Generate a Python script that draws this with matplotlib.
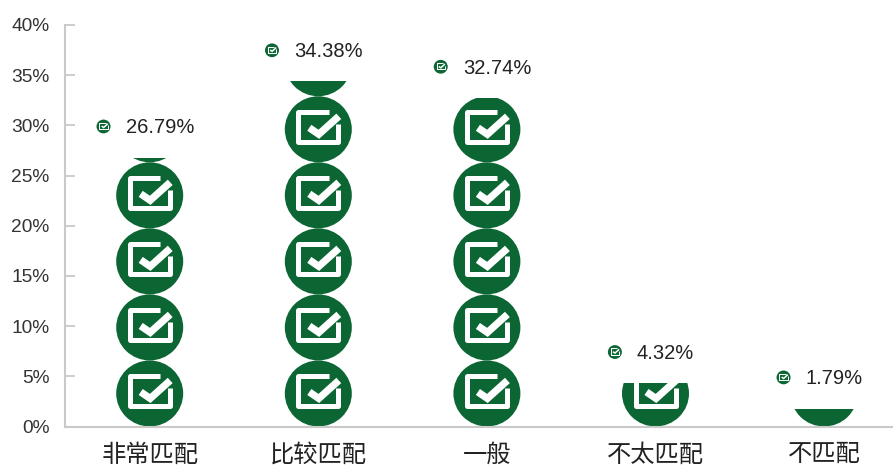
import matplotlib
matplotlib.use('Agg')
import matplotlib.pyplot as plt
from matplotlib.patches import Ellipse, Rectangle

plt.rcParams['font.family'] = ['Liberation Sans', 'Noto Sans CJK SC']

categories = ['非常匹配', '比较匹配', '一般', '不太匹配', '不匹配']
values = [26.79, 34.38, 32.74, 4.32, 1.79]
ytick_values = [0, 5, 10, 15, 20, 25, 30, 35, 40]

GREEN = '#0b6633'
AXIS = '#c9c9c9'
UNIT = 6.58  # percent covered by one icon

fig = plt.figure(figsize=(8.93, 4.68), dpi=100)
ax = fig.add_axes([65 / 893, (468 - 426.5) / 468, 828 / 893, 401.5 / 468])
PX_X = 1 / 168.6
PX_Y = 40 / 401.5
ax.set_xlim(-84.7 * PX_X, (828 - 84.7) * PX_X)
ax.set_ylim(0, 40)


def draw_icon(cx, cy, scale=1.0, clip=None):
    # icon shapes are given in pixels around the centre, y going down
    def pts(xy):
        return [cx + x * scale * PX_X for x, y in xy], [cy - y * scale * PX_Y for x, y in xy]

    arts = []
    circle = Ellipse((cx, cy), 67 * scale * PX_X, 66 * scale * PX_Y, color=GREEN, lw=0, zorder=2)
    ax.add_patch(circle)
    arts.append(circle)
    xs, ys = pts([(10.5, -17), (-20, -17), (-20, 13), (20, 13), (20, -5)])
    arts += ax.plot(xs, ys, color='white', lw=3.6 * scale, solid_joinstyle='round',
                    solid_capstyle='butt', zorder=3)
    xs, ys = pts([(-9, -1.5), (0.5, 5), (20.5, -13)])
    arts += ax.plot(xs, ys, color='white', lw=5.2 * scale, solid_joinstyle='miter',
                    solid_capstyle='butt', zorder=4)
    for a in arts:
        if clip is not None:
            a.set_clip_path(clip)
        else:
            a.set_clip_on(False)


for i, v in enumerate(values):
    clip = Rectangle((i - 0.5, 0), 1, v, transform=ax.transData)
    k = 0
    while k * UNIT < v:
        draw_icon(i, (k + 0.5) * UNIT, clip=clip)
        k += 1

labels = []
for i, v in enumerate(values):
    labels.append(ax.text(i + 10 * PX_X, v + 2.95, f'{v:.2f}%', ha='center', va='center',
                          fontsize=14.5, color='#222222'))

renderer = fig.canvas.get_renderer()
inv = ax.transData.inverted()
for i, (v, t) in enumerate(zip(values, labels)):
    left = inv.transform(t.get_window_extent(renderer).get_points())[0][0]
    draw_icon(left - 22 * PX_X, v + 3.1, scale=14 / 67)

ax.set_xticks(range(len(categories)))
ax.set_xticklabels(categories, fontsize=17.5, color='#222222')
ax.tick_params(axis='x', length=0, pad=12.5)
ax.set_yticks(ytick_values)
ax.set_yticklabels([f'{t}%' for t in ytick_values], fontsize=13.8, color='#333333')
ax.tick_params(axis='y', direction='in', length=7, width=1.3, color=AXIS, pad=11)

for side in ['top', 'right']:
    ax.spines[side].set_visible(False)
for side in ['left', 'bottom']:
    ax.spines[side].set_color(AXIS)
    ax.spines[side].set_linewidth(1.5)

fig.savefig('out.png', dpi=100)
